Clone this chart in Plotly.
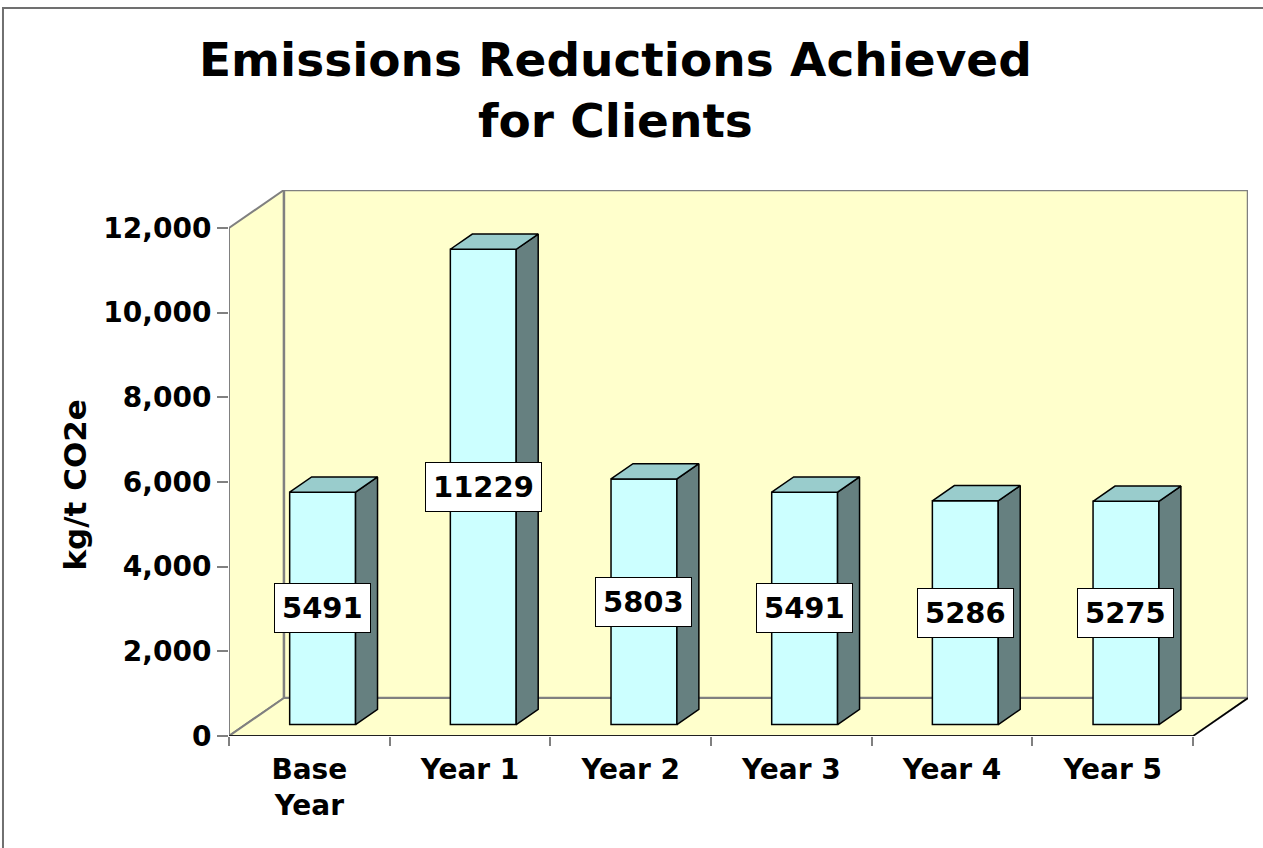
import plotly.graph_objects as go

# data
categories = ["Base<br>Year", "Year 1", "Year 2", "Year 3", "Year 4", "Year 5"]
values = [5491, 11229, 5803, 5491, 5286, 5275]
y_ticks = [0, 2000, 4000, 6000, 8000, 10000, 12000]

# fake 3d geometry (in data units)
DX = 0.342      # depth shift along x
DY = 898        # depth shift along y
F0 = 0.3        # where the bars sit in depth
D = 0.4         # bar depth
W = 0.41        # bar width
YMAX = 12000

FONT = "DejaVu Sans"
front = "#CCFFFF"
side = "#668080"
top = "#99CCCC"
wall = "#FFFFCC"

xs = list(range(len(values)))
bx = [i + F0 * DX - 0.02 for i in xs]
base = F0 * DY

fig = go.Figure()

# front faces
fig.add_trace(go.Bar(
    x=bx, y=values, base=[base] * len(values), width=W,
    marker=dict(color=front, line=dict(color="black", width=1.5)),
    hoverinfo="skip", showlegend=False,
))

# side and top faces
for c, v in zip(bx, values):
    xl, xr = c - W / 2, c + W / 2
    y0, y1 = base, base + v
    fig.add_trace(go.Scatter(
        x=[xr, xr + D * DX, xr + D * DX, xr, xr],
        y=[y0, y0 + D * DY, y1 + D * DY, y1, y0],
        fill="toself", fillcolor=side, mode="lines",
        line=dict(color="black", width=1.5), hoverinfo="skip", showlegend=False,
    ))
    fig.add_trace(go.Scatter(
        x=[xl, xr, xr + D * DX, xl + D * DX, xl],
        y=[y1, y1, y1 + D * DY, y1 + D * DY, y1],
        fill="toself", fillcolor=top, mode="lines",
        line=dict(color="black", width=1.5), hoverinfo="skip", showlegend=False,
    ))
    fig.add_annotation(
        x=c, y=base + v / 2, text="<b>%d</b>" % v, showarrow=False,
        font=dict(family=FONT, size=29, color="black"),
        bgcolor="white", bordercolor="black", borderwidth=1, borderpad=7,
    )

x0, x1 = -0.5, len(values) - 0.5

# walls and floor
fig.add_shape(type="path", layer="below",
              path=f"M {x0},0 L {x0+DX},{DY} L {x0+DX},{YMAX+DY} L {x0},{YMAX} Z",
              fillcolor=wall, line=dict(color="#808080", width=2))
fig.add_shape(type="rect", layer="below", x0=x0 + DX, x1=x1 + DX, y0=DY, y1=YMAX + DY,
              fillcolor=wall, line=dict(color="#808080", width=2.5))
fig.add_shape(type="path", layer="below",
              path=f"M {x0},0 L {x1},0 L {x1+DX},{DY} L {x0+DX},{DY} Z",
              fillcolor=wall, line=dict(color="#808080", width=2))
# front axis lines
fig.add_shape(type="line", x0=x0, x1=x0, y0=0, y1=YMAX, line=dict(color="#808080", width=2))
fig.add_shape(type="line", x0=x0, x1=x1, y0=0, y1=0, line=dict(color="black", width=1.5))
fig.add_shape(type="line", x0=x1, x1=x1 + DX, y0=0, y1=DY, line=dict(color="black", width=1.5))

# title and axis title
fig.add_annotation(
    xref="paper", yref="paper", x=0.379, y=1.183, showarrow=False,
    text="<b>Emissions Reductions Achieved<br>for Clients</b>",
    font=dict(family=FONT, size=47, color="black"), yanchor="middle",
)
fig.add_annotation(
    xref="paper", yref="paper", x=-0.171, y=0.46, showarrow=False, textangle=-90,
    text="<b>kg/t CO2e</b>", font=dict(family=FONT, size=31, color="black"),
)

# outer border
fig.add_shape(type="rect", xref="paper", yref="paper",
              x0=-0.2218, x1=1.5, y0=-0.5, y1=1.3333,
              line=dict(color="#707070", width=2))

fig.update_layout(
    width=1263, height=848,
    margin=dict(l=229, r=15, t=190, b=112),
    paper_bgcolor="white", plot_bgcolor="white",
    font=dict(family=FONT, color="black"),
    showlegend=False,
    xaxis=dict(
        range=[x0, x1 + DX], tickvals=xs, ticktext=["<b>%s</b>" % c for c in categories],
        ticks="", showgrid=False, zeroline=False, showline=False,
        tickfont=dict(family=FONT, size=28), ticklabelstandoff=14,
        minor=dict(tickvals=[i - 0.5 for i in range(len(values) + 1)],
                   ticks="outside", ticklen=9, tickcolor="#808080", tickwidth=2, showgrid=False),
    ),
    yaxis=dict(
        range=[0, YMAX + DY], tickvals=y_ticks,
        ticktext=["<b>{:,}</b>".format(t) for t in y_ticks],
        ticks="outside", ticklen=11, tickcolor="#808080", tickwidth=2,
        showgrid=False, zeroline=False, showline=False,
        tickfont=dict(family=FONT, size=28),
    ),
)

fig.write_html("out.html", config={"displayModeBar": False},
               post_script="document.body.style.margin='0px';")
